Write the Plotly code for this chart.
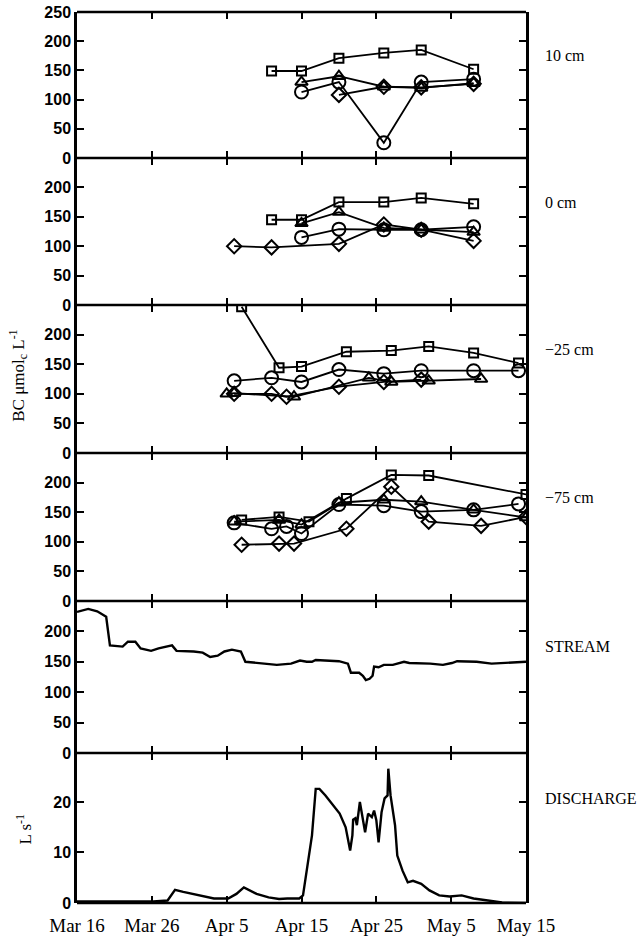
import pandas as pd
import plotly.graph_objects as go
from plotly.subplots import make_subplots

YEAR = "1990"
START = pd.Timestamp(f"{YEAR}-03-16")

# ---------------- data ----------------
# 10 cm
p1_sq_d = ["04-11", "04-15", "04-20", "04-26", "05-01", "05-08"]
p1_sq_v = [149, 149, 171, 180, 185, 152]
p1_tr_d = ["04-15", "04-20", "04-26", "05-01", "05-08"]
p1_tr_v = [130, 140, 122, 120, 128]
p1_ci_d = ["04-15", "04-20", "04-26", "05-01", "05-08"]
p1_ci_v = [113, 130, 26, 130, 135]
p1_di_d = ["04-20", "04-26", "05-01", "05-08"]
p1_di_v = [108, 122, 121, 127]

# 0 cm
p2_sq_d = ["04-11", "04-15", "04-20", "04-26", "05-01", "05-08"]
p2_sq_v = [145, 145, 175, 175, 182, 172]
p2_tr_d = ["04-15", "04-20", "04-26", "05-01", "05-08"]
p2_tr_v = [139, 158, 131, 128, 124]
p2_ci_d = ["04-15", "04-20", "04-26", "05-01", "05-08"]
p2_ci_v = [115, 129, 128, 128, 133]
p2_di_d = ["04-06", "04-11", "04-20", "04-26", "05-01", "05-08"]
p2_di_v = [100, 98, 104, 137, 128, 109]

# -25 cm
p3_sq_d = ["04-07", "04-12", "04-15", "04-21", "04-27", "05-02", "05-08", "05-14"]
p3_sq_v = [247, 144, 146, 171, 173, 180, 169, 152]
p3_tr_d = ["04-05", "04-06", "04-14", "04-24", "04-27", "05-02", "05-09"]
p3_tr_v = [100, 101, 95, 127, 120, 122, 125]
p3_ci_d = ["04-06", "04-11", "04-15", "04-20", "04-26", "05-01", "05-08", "05-14"]
p3_ci_v = [122, 127, 120, 141, 134, 139, 139, 139]
p3_di_d = ["04-06", "04-11", "04-13", "04-20", "04-26", "05-01"]
p3_di_v = [100, 100, 95, 112, 120, 124]

# -75 cm
p4_sq_d = ["04-07", "04-12", "04-16", "04-21", "04-27", "05-02", "05-15"]
p4_sq_v = [137, 142, 134, 173, 213, 212, 180]
p4_tr_d = ["04-06", "04-12", "04-15", "04-20", "04-26", "05-01", "05-08", "05-15"]
p4_tr_v = [134, 137, 129, 166, 171, 168, 154, 141]
p4_ci_d = ["04-06", "04-11", "04-13", "04-15", "04-20", "04-26", "05-01", "05-08", "05-14"]
p4_ci_v = [132, 122, 126, 114, 163, 161, 151, 154, 164]
p4_di_d = ["04-07", "04-12", "04-14", "04-21", "04-27", "05-02", "05-09", "05-15"]
p4_di_v = [95, 97, 97, 122, 193, 134, 127, 142]

# Stream BC (days after Mar 16)
stream_day = [0, 1.5, 2.7, 3.9, 4.4, 6.1, 6.8, 7.8, 8.5, 9.9, 10.9, 12.1, 12.7, 13.3,
              15.6, 16.8, 17.8, 18.8, 19.7, 20.7, 21.9, 22.5, 24.3, 26.7, 28.6, 29.8,
              30.7, 31.4, 31.9, 33.8, 35.0, 36.2, 36.6, 37.7, 38.2, 38.6, 39.1, 39.5,
              39.7, 40.3, 41.0, 42.2, 43.7, 44.4, 47.2, 48.9, 50.1, 50.8, 53.4, 55.4,
              57.8, 60.0]
stream_bc = [232, 237, 233, 224, 177, 175, 183, 183, 172, 168, 172, 175, 177, 168,
             167, 165, 158, 160, 167, 170, 167, 150, 148, 145, 147, 152,
             150, 150, 153, 152, 151, 147, 132, 132, 127, 120, 122, 127,
             142, 141, 145, 145, 150, 148, 147, 145, 148, 151, 150, 147,
             148, 150]

# Discharge (days after Mar 16)
dis_day = [0, 10.2, 12.1, 12.6, 13.1, 14.2, 15.6, 17.2, 18.3, 20.2, 21.3, 22.3, 22.9,
           24.0, 25.6, 27.0, 28.1, 29.7, 30.2, 30.9, 31.4, 31.9, 32.4, 33.2, 35.1,
           35.9, 36.5, 36.8, 36.9, 37.2, 37.4, 37.8, 38.1, 38.5, 38.9, 39.4, 39.7,
           40.0, 40.3, 40.7, 41.1, 41.5, 41.6, 41.9, 42.5, 42.8, 43.5, 44.2, 44.9,
           46.0, 47.1, 48.4, 49.8, 51.4, 53.0, 54.7, 56.8, 60.0]
dis_q = [0.3, 0.3, 0.5, 1.5, 2.6, 2.2, 1.8, 1.3, 0.9, 0.9, 1.8, 3.1, 2.6,
         1.8, 1.1, 0.8, 0.9, 0.9, 1.5, 8.7, 13.4, 22.6, 22.6, 21.3, 17.7,
         15.0, 10.4, 13.4, 16.5, 16.8, 15.4, 20.0, 17.4, 14.0, 17.7, 17.0, 18.3,
         16.4, 12.0, 18.0, 20.7, 21.3, 26.6, 21.3, 15.4, 9.4, 6.4, 4.1, 4.4,
         3.8, 2.5, 1.5, 1.3, 1.5, 0.9, 0.5, 0.1, 0.0]

tick_dates = ["03-16", "03-26", "04-05", "04-15", "04-25", "05-05", "05-15"]
tick_text = ["Mar 16", "Mar 26", "Apr 5", "Apr 15", "Apr 25", "May 5", "May 15"]
panel_labels = ["10 cm", "0 cm", "\u221225 cm", "\u221275 cm", "STREAM", "DISCHARGE"]


def dt(lst):
    return [f"{YEAR}-{s}" for s in lst]


def days(lst):
    return [START + pd.Timedelta(days=v) for v in lst]


# ---------------- figure ----------------
fig = make_subplots(rows=6, cols=1, shared_xaxes=True, vertical_spacing=0,
                    row_heights=[146, 147, 148, 148, 152, 150])

marker_styles = {
    "sq": dict(symbol="square-open", size=9),
    "tr": dict(symbol="triangle-up-open", size=11),
    "ci": dict(symbol="circle-open", size=13),
    "di": dict(symbol="diamond-open", size=11),
}

panels = [
    [("sq", p1_sq_d, p1_sq_v), ("tr", p1_tr_d, p1_tr_v), ("ci", p1_ci_d, p1_ci_v), ("di", p1_di_d, p1_di_v)],
    [("sq", p2_sq_d, p2_sq_v), ("tr", p2_tr_d, p2_tr_v), ("ci", p2_ci_d, p2_ci_v), ("di", p2_di_d, p2_di_v)],
    [("sq", p3_sq_d, p3_sq_v), ("tr", p3_tr_d, p3_tr_v), ("ci", p3_ci_d, p3_ci_v), ("di", p3_di_d, p3_di_v)],
    [("sq", p4_sq_d, p4_sq_v), ("tr", p4_tr_d, p4_tr_v), ("ci", p4_ci_d, p4_ci_v), ("di", p4_di_d, p4_di_v)],
]

for r, series in enumerate(panels, start=1):
    for key, dd, vv in series:
        ms = marker_styles[key]
        fig.add_trace(go.Scatter(
            x=dt(dd), y=vv, mode="lines+markers",
            line=dict(color="black", width=1.8),
            marker=dict(symbol=ms["symbol"], size=ms["size"], color="black",
                        line=dict(color="black", width=2)),
            showlegend=False), row=r, col=1)

fig.add_trace(go.Scatter(x=days(stream_day), y=stream_bc, mode="lines",
                         line=dict(color="black", width=2.4), showlegend=False),
              row=5, col=1)
fig.add_trace(go.Scatter(x=days(dis_day), y=dis_q, mode="lines",
                         line=dict(color="black", width=2.4), showlegend=False),
              row=6, col=1)

ytick_font = dict(family="Liberation Sans", size=16, color="black", weight="bold")
for r in range(1, 7):
    fig.update_xaxes(row=r, col=1, type="date",
                     range=[f"{YEAR}-03-16", f"{YEAR}-05-15"],
                     tickvals=dt(tick_dates), ticktext=tick_text,
                     ticks="inside", ticklen=7, tickwidth=2, tickcolor="black",
                     showline=False, mirror="ticks", automargin=False,
                     ticklabelstandoff=9,
                     showgrid=False, zeroline=False,
                     tickfont=dict(family="Liberation Serif", size=19, color="black"))
    if r == 1:
        tv = [0, 50, 100, 150, 200, 250]
        rng = [0, 250]
    elif r <= 5:
        tv = [0, 50, 100, 150, 200]
        rng = [0, 250]
    else:
        tv = [0, 10, 20]
        rng = [0, 29.7]
    fig.update_yaxes(row=r, col=1, range=rng, tickvals=tv,
                     ticks="inside", ticklen=7, tickwidth=2, tickcolor="black",
                     showline=True, linecolor="black", linewidth=2.5, mirror="ticks",
                     automargin=False,
                     showgrid=False, zeroline=False, tickfont=ytick_font)

# horizontal frame edges (drawn once at each panel boundary)
for i in range(1, 7):
    xr = "x domain" if i == 1 else f"x{i} domain"
    yr = "y domain" if i == 1 else f"y{i} domain"
    fig.add_shape(type="line", xref=xr, yref=yr, x0=0, x1=1, y0=0, y1=0,
                  line=dict(color="black", width=2.5))
fig.add_shape(type="line", xref="x domain", yref="y domain", x0=0, x1=1, y0=1, y1=1,
              line=dict(color="black", width=2.5))

annotations = []
for i, lab in enumerate(panel_labels, start=1):
    yref = "y domain" if i == 1 else f"y{i} domain"
    annotations.append(dict(text=lab, xref="paper", yref=yref, x=1.038, y=0.70,
                            xanchor="left", yanchor="middle", showarrow=False,
                            font=dict(family="Liberation Serif", size=16, color="black")))
annotations.append(dict(text="BC \u03bcmol<sub>c</sub> L<sup>-1</sup>", xref="paper", yref="y3 domain",
                        x=-0.132, y=0.52, textangle=-90, xanchor="center", yanchor="middle",
                        showarrow=False,
                        font=dict(family="Liberation Serif", size=17, color="black")))
annotations.append(dict(text="L s<sup>-1</sup>", xref="paper", yref="y6 domain",
                        x=-0.12, y=0.49, textangle=-90, xanchor="center", yanchor="middle",
                        showarrow=False,
                        font=dict(family="Liberation Serif", size=17, color="black")))

fig.update_layout(width=638, height=944,
                  margin=dict(l=77, r=112, t=12, b=41, autoexpand=False),
                  paper_bgcolor="white", plot_bgcolor="white",
                  annotations=annotations, showlegend=False)

fig.write_html("out.html")
